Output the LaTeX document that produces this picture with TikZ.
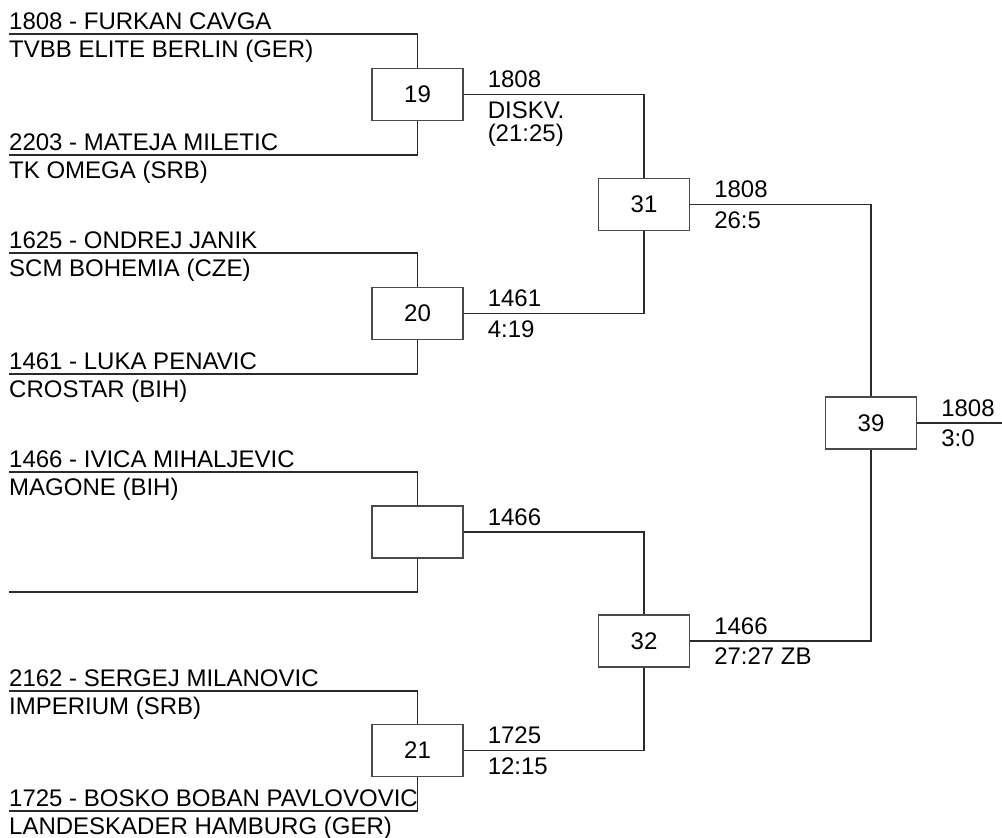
\documentclass[tikz,border=0pt]{standalone}
\usepackage{fontspec}
\setmainfont{Liberation Sans}
\usepackage{tikz}
\usepackage{xcolor}
\definecolor{wirec}{HTML}{2B2B2B}
\definecolor{boxc}{HTML}{4A4A4A}
\tikzset{
  wire/.style={draw=wirec, line width=1.1pt},
  matchbox/.style={draw=boxc, line width=1.1pt, minimum width=91pt, minimum height=52pt, inner sep=0pt, font=\fontsize{24}{28}\selectfont},
  playertxt/.style={anchor=base west, inner sep=0pt, yshift=5pt, font=\fontsize{24}{28}\selectfont},
  clubtxt/.style={anchor=base west, inner sep=0pt, yshift=-23.5pt, font=\fontsize{24}{28}\selectfont},
  wintxt/.style={anchor=base west, inner sep=0pt, xshift=24pt, yshift=7pt, font=\fontsize{24}{28}\selectfont},
  scoretxt/.style={anchor=base west, inner sep=0pt, xshift=24pt, yshift=-23.5pt, font=\fontsize{24}{28}\selectfont},
}

\begin{document}
\begin{tikzpicture}[x=1pt,y=-1pt]
\useasboundingbox (0,0) rectangle (1002,838);
% matches
\node[matchbox] (m19) at (417.5,94.5) {19};
\node[matchbox] (m20) at (417.5,313.5) {20};
\node[matchbox] (m00) at (417.5,532) {};
\node[matchbox] (m21) at (417.5,750.5) {21};
\node[matchbox] (m31) at (644,204.5) {31};
\node[matchbox] (m32) at (644,641) {32};
\node[matchbox] (m39) at (871,423) {39};
% entry lines
\coordinate (s1) at (9,34);
\coordinate (s2) at (9,155);
\coordinate (s3) at (9,253);
\coordinate (s4) at (9,374);
\coordinate (s5) at (9,472);
\coordinate (s6) at (9,592);
\coordinate (s7) at (9,691);
\coordinate (s8) at (9,811);
\coordinate (fin) at (1002,423);
\draw[wire] (s1) -| (m19.north);
\draw[wire] (s2) -| (m19.south);
\draw[wire] (s3) -| (m20.north);
\draw[wire] (s4) -| (m20.south);
\draw[wire] (s5) -| (m00.north);
\draw[wire] (s6) -| (m00.south);
\draw[wire] (s7) -| (m21.north);
\draw[wire] (s8) -| (m21.south);
\draw[wire] (m19.east) -| (m31.north);
\draw[wire] (m20.east) -| (m31.south);
\draw[wire] (m00.east) -| (m32.north);
\draw[wire] (m21.east) -| (m32.south);
\draw[wire] (m31.east) -| (m39.north);
\draw[wire] (m32.east) -| (m39.south);
\draw[wire] (m39.east) -- (fin);
% players
\node[playertxt] (p1) at (s1) {1808 - FURKAN CAVGA};
\node[clubtxt] (c1) at (s1) {TVBB ELITE BERLIN (GER)};
\node[playertxt] (p2) at (s2) {2203 - MATEJA MILETIC};
\node[clubtxt] (c2) at (s2) {TK OMEGA (SRB)};
\node[playertxt] (p3) at (s3) {1625 - ONDREJ JANIK};
\node[clubtxt] (c3) at (s3) {SCM BOHEMIA (CZE)};
\node[playertxt] (p4) at (s4) {1461 - LUKA PENAVIC};
\node[clubtxt] (c4) at (s4) {CROSTAR (BIH)};
\node[playertxt] (p5) at (s5) {1466 - IVICA MIHALJEVIC};
\node[clubtxt] (c5) at (s5) {MAGONE (BIH)};
\node[playertxt] (p7) at (s7) {2162 - SERGEJ MILANOVIC};
\node[clubtxt] (c7) at (s7) {IMPERIUM (SRB)};
\node[playertxt] (p8) at (s8) {1725 - BOSKO BOBAN PAVLOVOVIC};
\node[clubtxt] (c8) at (s8) {LANDESKADER HAMBURG (GER)};
% results
\node[wintxt] (w19) at (m19.east) {1808};
\node[scoretxt] (r19) at (m19.east) {DISKV.};
\node[scoretxt, yshift=-23pt] (r19b) at (m19.east) {(21:25)};
\node[wintxt] (w20) at (m20.east) {1461};
\node[scoretxt] (r20) at (m20.east) {4:19};
\node[wintxt] (w00) at (m00.east) {1466};
\node[wintxt] (w21) at (m21.east) {1725};
\node[scoretxt] (r21) at (m21.east) {12:15};
\node[wintxt] (w31) at (m31.east) {1808};
\node[scoretxt] (r31) at (m31.east) {26:5};
\node[wintxt] (w32) at (m32.east) {1466};
\node[scoretxt] (r32) at (m32.east) {27:27 ZB};
\node[wintxt] (w39) at (m39.east) {1808};
\node[scoretxt] (r39) at (m39.east) {3:0};
\end{tikzpicture}
\end{document}
